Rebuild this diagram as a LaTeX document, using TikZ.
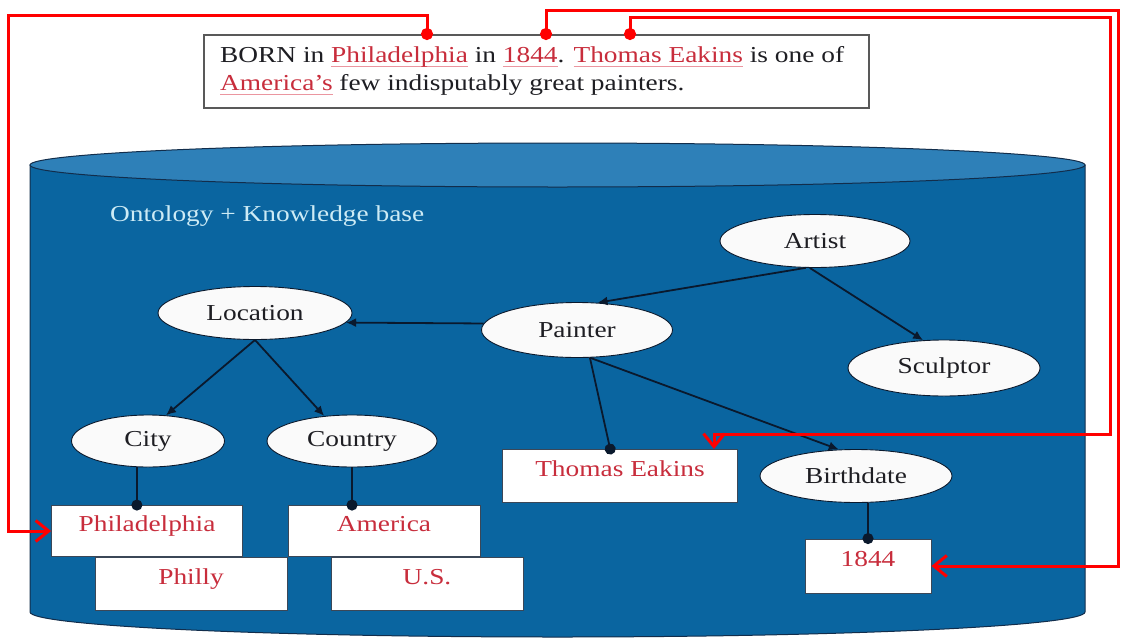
\documentclass[tikz,border=0pt]{standalone}
\usepackage{fontspec}
\setmainfont{Liberation Serif}[FakeStretch=1.2]
\usetikzlibrary{shapes.geometric,arrows.meta,calc}

\definecolor{cylbody}{RGB}{10,101,160}
\definecolor{cyltop}{RGB}{46,128,184}
\definecolor{cyledge}{RGB}{18,45,75}
\definecolor{kbtext}{RGB}{205,235,245}
\definecolor{wordred}{RGB}{200,45,60}
\definecolor{ulred}{RGB}{235,150,160}
\definecolor{inkdark}{RGB}{30,30,35}
\definecolor{linkred}{RGB}{255,0,0}
\definecolor{edgedark}{RGB}{10,25,45}

% red word with a light underline, as in the sentence
\newcommand\redword[1]{\setbox0=\hbox{#1}\rlap{\color{ulred}\rule[-4pt]{\wd0}{1.3pt}}\textcolor{wordred}{\box0}}

\begin{document}
\begin{tikzpicture}[x=1pt,y=-1pt,
  font=\fontsize{22.8}{28}\selectfont,
  concept/.style={ellipse, fill=white!96!gray, draw=edgedark, line width=0.9pt,
    inner sep=0pt, text=inkdark},
  instance/.style={rectangle, fill=white, draw=edgedark!80, line width=0.9pt,
    inner sep=0pt, text=wordred, text height=16pt, text depth=15pt},
  textbox/.style={rectangle, fill=white, draw=gray!70!black, line width=1.5pt},
  isa/.style={edgedark, line width=1.8pt, -{Latex[length=10pt,width=9pt]}},
  valueof/.style={edgedark, line width=1.8pt, -{Circle[length=11pt]}, shorten >=-5.5pt},
  link/.style={linkred, line width=3pt,
    {Circle[length=12pt]}-{Straight Barb[length=13pt,width=21pt]}, shorten <=-6pt},
]
\useasboundingbox (0,0) rectangle (1121,640);

% knowledge-base cylinder
\path[fill=cylbody, draw=cyledge, line width=1pt]
  (30,165) -- (30,612) arc[start angle=180, end angle=0, x radius=527.5, y radius=25]
  -- (1085,165) -- cycle;
\path[fill=cyltop, draw=cyledge, line width=1pt]
  (557.5,165) ellipse[x radius=527.5, y radius=22];
\node[anchor=west, inner sep=0pt, text=kbtext] (kb) at (110,216) {Ontology + Knowledge base};

% input sentence
\node[textbox, anchor=north west, minimum width=665, minimum height=73] (tb) at (203,34) {};
\node[anchor=west, align=left, inner sep=0pt, text=inkdark] (sent) at ($(tb.west)+(17,0)$)
  {BORN in \redword{Philadelphia} in \redword{1844}. \redword{Thomas Eakins} is one of\\
   \redword{America's} few indisputably great painters.};

% ontology concepts
\node[concept, minimum width=190, minimum height=53] (artist)    at (815,241) {Artist};
\node[concept, minimum width=194, minimum height=53] (location)  at (255,313) {Location};
\node[concept, minimum width=191, minimum height=55] (painter)   at (577,330) {Painter};
\node[concept, minimum width=192, minimum height=56] (sculptor)  at (944,368) {Sculptor};
\node[concept, minimum width=153, minimum height=52] (city)      at (148,441) {City};
\node[concept, minimum width=170, minimum height=52] (country)   at (352,441) {Country};
\node[concept, minimum width=192, minimum height=53] (birthdate) at (856,476) {Birthdate};

% knowledge-base instances
\node[instance, minimum width=235, minimum height=53] (eakins)  at (620,476) {Thomas Eakins};
\node[instance, minimum width=192, minimum height=53] (philly)  at (191,584) {Philly};
\node[instance, minimum width=192, minimum height=53] (us)      at (427,584) {U.S.};
\node[instance, minimum width=191, minimum height=51] (phil)    at (147,531) {Philadelphia};
\node[instance, minimum width=192, minimum height=51] (america) at (384,531) {America};
\node[instance, minimum width=126, minimum height=54] (y1844)   at (868,566) {1844};

% ontology relations
\draw[isa] (artist.251) -- (painter.53);
\draw[isa] (artist.259) -- (sculptor.127);
\draw[isa] (painter.176) -- (location.-6);
\draw[isa] (location.south) -- (city.55);
\draw[isa] (location.south) -- (country.138);
\draw[isa] (painter.-65) -- (birthdate.123);
\draw[valueof] (city.247) -- (city.247 |- phil.north);
\draw[valueof] (country.south) -- (country.south |- america.north);
\draw[valueof] (painter.-65) -- (eakins.110);
\draw[valueof] (birthdate.south -| y1844.north) -- (y1844.north);

% links from the sentence to the knowledge base
\coordinate (dA) at (427,34);
\coordinate (dB) at (546,34);
\coordinate (dC) at (630,34);
\coordinate (cA) at (8,15);
\coordinate (cB) at (1118,10);
\coordinate (cC1) at (1110,17);
\coordinate (cC2) at (714,434);
\draw[link] (dA) |- (cA) |- (phil.west);
\draw[link] (dB) |- (cB) |- (y1844.east);
\draw[link] (dC) |- (cC1) |- (cC2) -- (cC2 |- eakins.north);
\end{tikzpicture}
\end{document}
